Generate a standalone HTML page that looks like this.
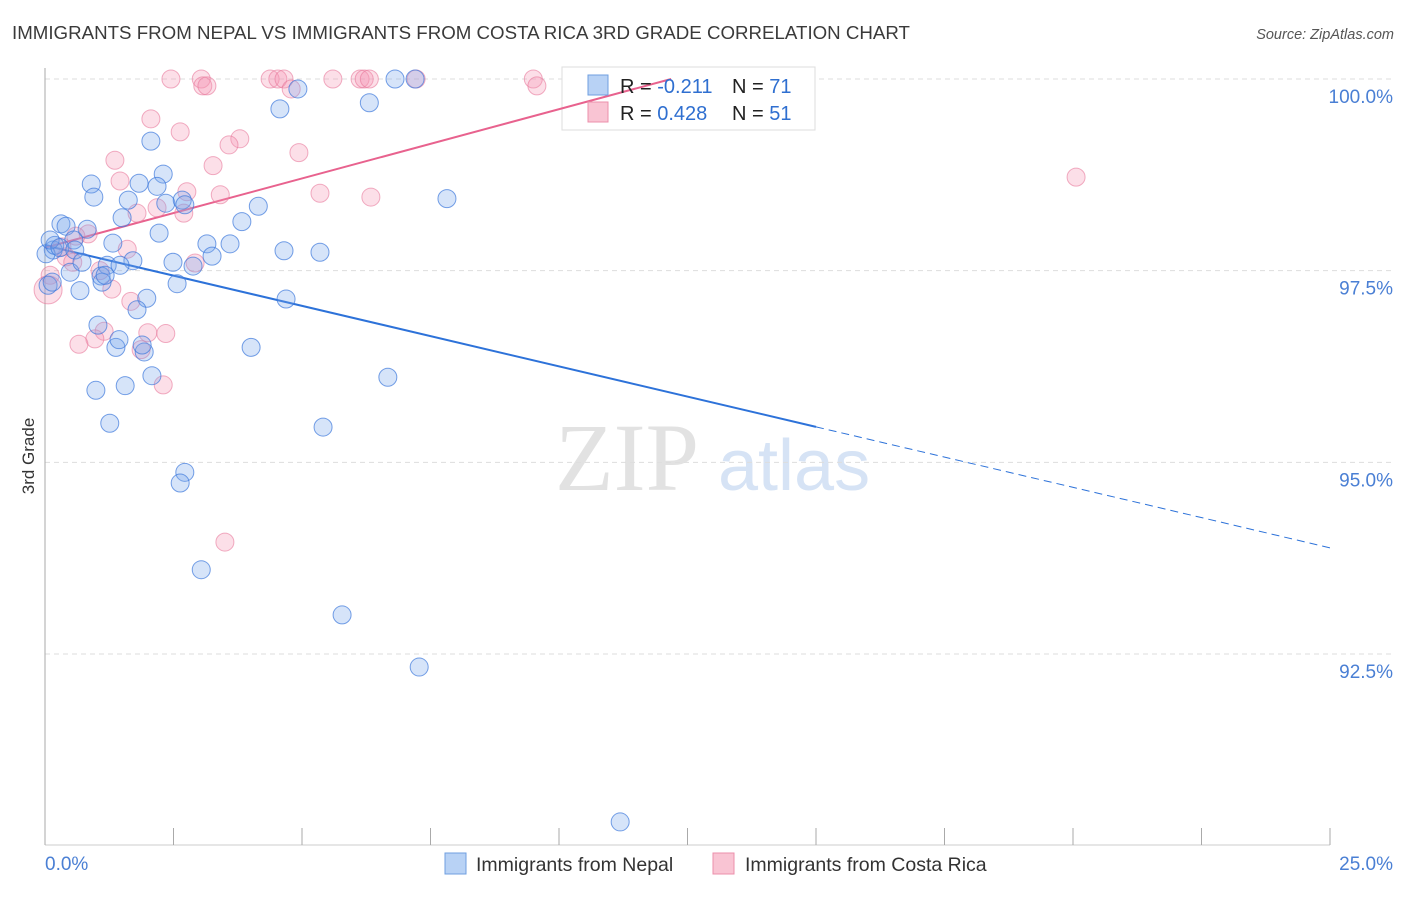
<!DOCTYPE html>
<html><head><meta charset="utf-8"><style>
body{margin:0;background:#fff;font-family:"Liberation Sans",sans-serif}
</style></head><body>
<svg id="chart" width="1406" height="892" xmlns="http://www.w3.org/2000/svg" style="font-family:'Liberation Sans',sans-serif">
<text x="12" y="39" font-size="18.6" fill="#3a3a3a" textLength="898" lengthAdjust="spacingAndGlyphs">IMMIGRANTS FROM NEPAL VS IMMIGRANTS FROM COSTA RICA 3RD GRADE CORRELATION CHART</text>
<text x="1394" y="39" font-size="14.5" fill="#555" text-anchor="end" font-style="italic">Source: ZipAtlas.com</text>
<g>
<text x="555" y="490" font-size="96" fill="#e2e2e2" font-family="'Liberation Serif',serif">ZIP</text>
<text x="718" y="490" font-size="72" fill="#d6e3f5">atlas</text>
</g>
<g id="grid"></g><g id="axes"></g>
<g>
<rect x="562" y="67" width="253" height="63" fill="#fff" stroke="#ddd"/>
</g>
<g id="trend"></g><g id="pts"></g>
<text transform="translate(34,456) rotate(-90)" font-size="17" fill="#333" text-anchor="middle">3rd Grade</text>
<g>
<rect x="588" y="75" width="20" height="20" fill="#b8d2f5" stroke="#6f9fe0"/>
<rect x="588" y="102" width="20" height="20" fill="#f9c4d3" stroke="#ec8fab"/>
<text x="620" y="93" font-size="20" fill="#222">R = <tspan fill="#2f6fd0">-0.211</tspan></text>
<text x="732" y="93" font-size="20" fill="#222">N = <tspan fill="#2f6fd0">71</tspan></text>
<text x="620" y="120" font-size="20" fill="#222">R = <tspan fill="#2f6fd0">0.428</tspan></text>
<text x="732" y="120" font-size="20" fill="#222">N = <tspan fill="#2f6fd0">51</tspan></text>
</g>
<g>
<rect x="445" y="853" width="21" height="21" fill="#b8d2f5" stroke="#6f9fe0"/>
<text x="476" y="871" font-size="19.5" fill="#333">Immigrants from Nepal</text>
<rect x="713" y="853" width="21" height="21" fill="#f9c4d3" stroke="#ec8fab"/>
<text x="745" y="871" font-size="19.5" fill="#333">Immigrants from Costa Rica</text>
</g>
</svg>
<script>
const yTicks=[100,97.5,95,92.5];
const yTickLabels=["100.0%","97.5%","95.0%","92.5%"];
const xTickCount=10;
const nepalX=[6.81,7.20,4.92,6.31,4.57,2.06,2.30,0.90,1.83,2.18,0.95,1.62,2.35,2.67,7.82,4.15,1.50,3.83,0.31,0.41,0.82,2.22,0.56,1.32,3.15,4.65,5.35,0.16,0.02,3.25,1.71,2.49,1.21,2.88,0.49,1.09,2.57,0.68,1.11,1.98,4.69,1.79,1.03,0.06,1.38,1.93,4.01,1.44,2.08,6.67,0.99,1.56,1.26,5.41,2.72,2.63,3.04,5.78,7.28,11.19,0.19,0.10,0.29,0.14,1.89,2.72,0.58,0.72,1.17,1.46,3.60];
const nepalY=[100,100,99.87,99.69,99.61,99.19,98.76,98.63,98.64,98.60,98.46,98.42,98.38,98.42,98.44,98.34,98.19,98.14,98.11,98.08,98.04,97.99,97.90,97.86,97.85,97.76,97.74,97.77,97.72,97.69,97.63,97.61,97.57,97.56,97.48,97.43,97.33,97.24,97.35,97.14,97.13,96.99,96.79,97.31,96.50,96.44,96.50,96.60,96.13,96.11,95.94,96.00,95.51,95.46,94.87,94.73,93.60,93.01,92.33,90.31,97.83,97.90,97.80,97.35,96.53,98.36,97.77,97.61,97.44,97.57,97.85];
const costaX=[2.45,3.04,3.07,3.15,4.38,4.53,4.65,4.79,5.60,6.13,6.21,6.31,7.22,9.50,9.57,2.06,2.63,3.79,3.58,1.36,3.27,4.94,1.46,2.76,3.41,5.35,6.34,2.18,1.79,2.70,0.84,0.41,2.92,1.60,0.54,1.07,0.10,1.30,1.67,0.06,1.15,0.97,0.66,2.00,2.35,1.87,2.30,3.50,20.06,0.33,0.60];
const costaY=[100,100,99.91,99.91,100,100,100,99.87,100,100,100,100,100,100,99.91,99.48,99.31,99.22,99.14,98.94,98.87,99.04,98.67,98.53,98.49,98.51,98.46,98.32,98.25,98.25,97.98,97.68,97.60,97.78,97.61,97.50,97.44,97.26,97.10,97.25,96.71,96.61,96.54,96.69,96.68,96.47,96.01,93.96,98.72,97.81,97.95];
const nepalTrend=[97.83,-0.1578];
const costaTrend=[97.80,0.1806];
const X0=45,X1=1330,Y0=79,YPER=76.67;
const sx=v=>X0+v/25*(X1-X0);
const sy=v=>Y0+(100-v)*YPER;
const NS="http://www.w3.org/2000/svg";
function mk(tag,attrs,parent){const e=document.createElementNS(NS,tag);for(const k in attrs)e.setAttribute(k,attrs[k]);parent.appendChild(e);return e;}
const grid=document.getElementById('grid'),axes=document.getElementById('axes'),trend=document.getElementById('trend'),pts=document.getElementById('pts');
yTicks.forEach((t,i)=>{
 const l=mk('line',{x1:X0,x2:1395,y1:sy(t),y2:sy(t),stroke:'#ddd','stroke-dasharray':'5,4'},grid);
 
 
 const tx=mk('text',{x:1393,y:sy(t)+24,'font-size':19,fill:'#4a7fd4','text-anchor':'end'},grid);
 tx.textContent=yTickLabels[i];
 
 
});
const ya=mk('line',{x1:X0,x2:X0,y1:68,y2:845,stroke:'#aaa'},axes);


const xa=mk('line',{x1:X0,x2:X1,y1:845,y2:845,stroke:'#ccc'},axes);


for(let i=0;i<=xTickCount;i++){
 const x=sx(25*i/xTickCount);
 const t=mk('line',{x1:x,x2:x,y1:828,y2:845,stroke:'#aaa'},axes);
 
 
}
const xl0=mk('text',{x:45,y:870,'font-size':19,fill:'#4a7fd4'},axes);xl0.textContent='0.0%';


const xl1=mk('text',{x:1393,y:870,'font-size':19,fill:'#4a7fd4','text-anchor':'end'},axes);xl1.textContent='25.0%';


const nEnd=15;
const nt1=mk('line',{x1:sx(0),y1:sy(nepalTrend[0]),x2:sx(nEnd),y2:sy(nepalTrend[0]+nepalTrend[1]*nEnd),stroke:'#2d72d9','stroke-width':2},trend);


const nt2=mk('line',{x1:sx(nEnd),y1:sy(nepalTrend[0]+nepalTrend[1]*nEnd),x2:sx(25),y2:sy(nepalTrend[0]+nepalTrend[1]*25),stroke:'#2d72d9','stroke-width':1,'stroke-dasharray':'8,5'},trend);


const cEnd=(100-costaTrend[0])/costaTrend[1];
const ct=mk('line',{x1:sx(0),y1:sy(costaTrend[0]),x2:sx(cEnd),y2:sy(100),stroke:'#e8628e','stroke-width':2},trend);


costaX.forEach((v,i)=>{
 const c=mk('circle',{cx:sx(v),cy:sy(costaY[i]),r:(i==39?14:9),fill:'rgba(244,150,180,0.3)',stroke:'rgba(232,120,155,0.6)','stroke-width':1},pts);
 
 
});
nepalX.forEach((v,i)=>{
 const c=mk('circle',{cx:sx(v),cy:sy(nepalY[i]),r:9,fill:'rgba(120,165,235,0.3)',stroke:'rgba(60,120,220,0.7)','stroke-width':1},pts);
 
 
});
</script>
</body></html>
